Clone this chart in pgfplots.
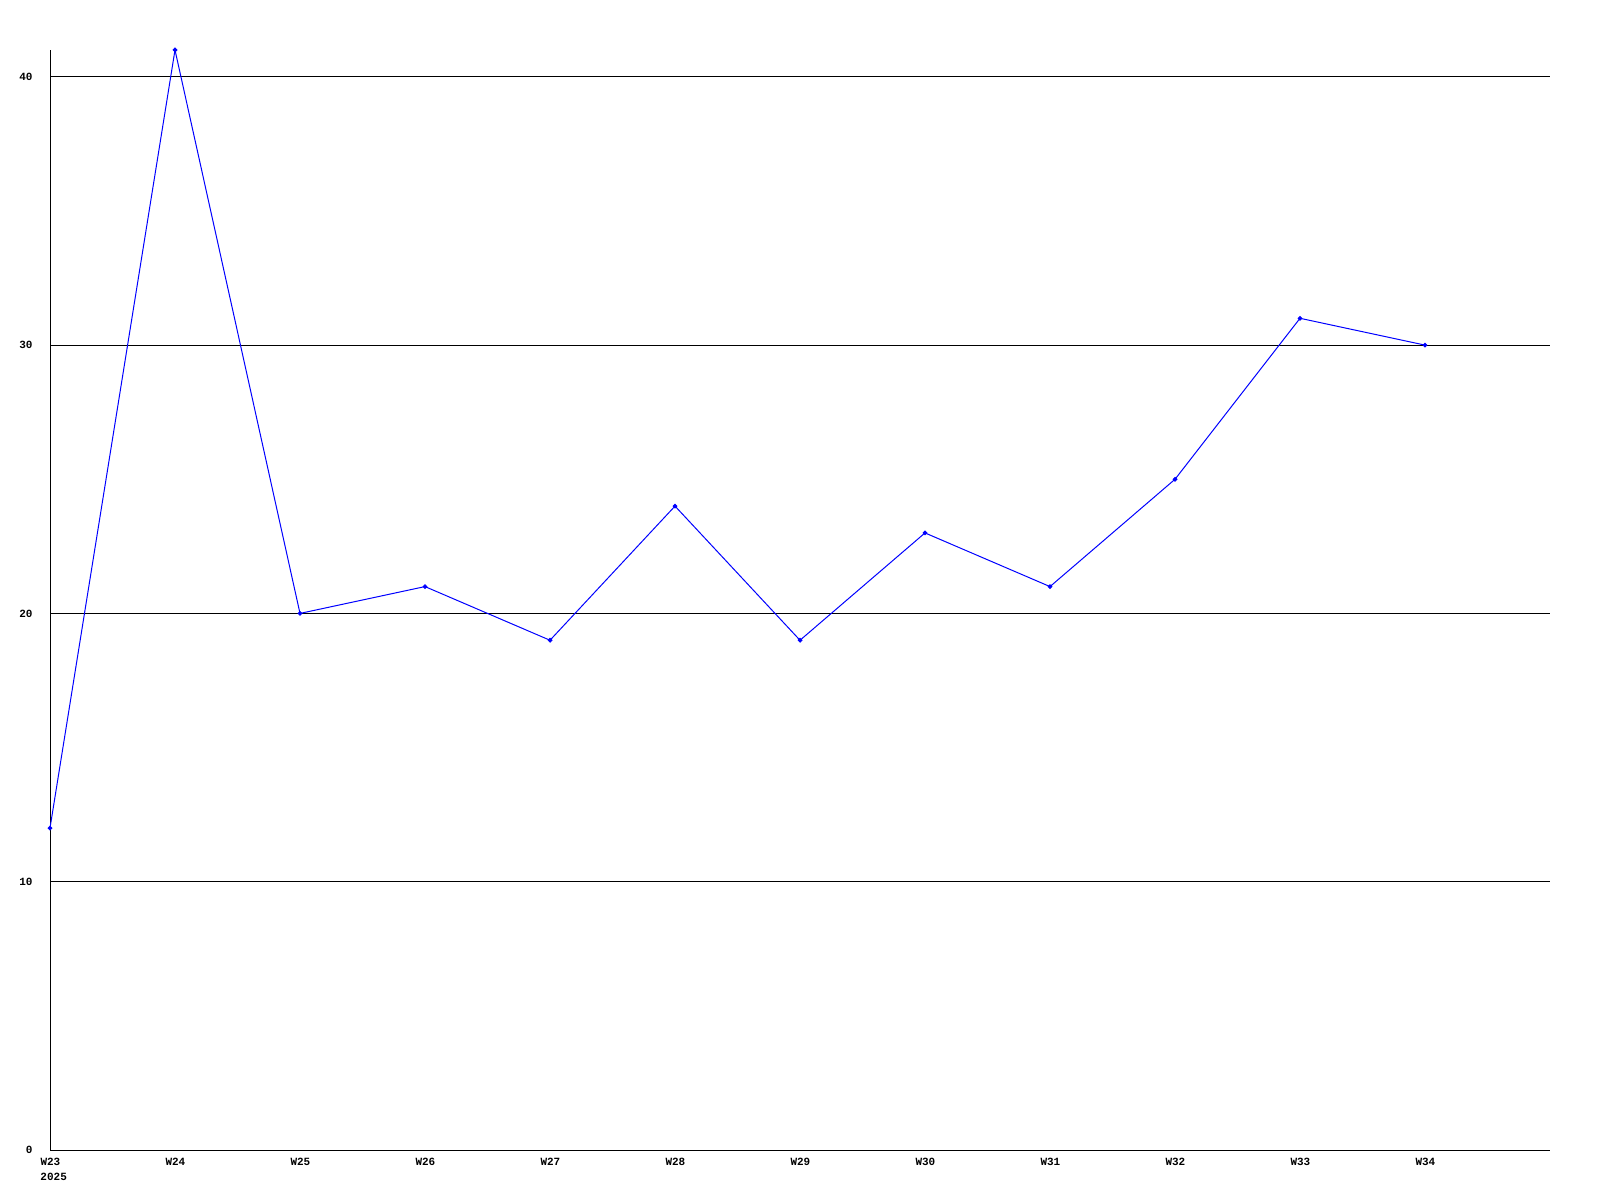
\documentclass[border=0pt]{standalone}
\usepackage{pgfplots}
\pgfplotsset{compat=1.18}
\usepackage{fontspec}
\newfontfamily\labelfont{Liberation Mono}
\begin{document}
\begin{tikzpicture}
\useasboundingbox (-25pt,-25pt) rectangle (775pt,575pt);
\begin{axis}[
  at={(0,0)}, anchor=south west,
  width=750pt, height=550pt, scale only axis=true,
  xmin=0, xmax=12, ymin=0, ymax=41,
  axis lines=left,
  axis line style={-, black, line width=0.5pt},
  xtick={0,1,2,3,4,5,6,7,8,9,10,11},
  xticklabels={W23\\2025,W24,W25,W26,W27,W28,W29,W30,W31,W32,W33,W34},
  ytick={0,10,20,30,40},
  major tick length=0pt,
  ymajorgrids=true,
  grid style={black, line width=0.5pt},
  tick label style={font=\labelfont\bfseries\fontsize{5.5}{7.5}\selectfont},
  xticklabel style={anchor=north west, inner sep=0pt, xshift=-4.95pt, yshift=-4pt, align=left},
  yticklabel style={anchor=east, inner sep=0pt, xshift=-8.5pt},
  /pgf/number format/assume math mode=true,
  clip=false,
]
\addplot[color={rgb,255:red,0;green,0;blue,255}, line width=0.5pt, mark=*, mark size=0.9pt,
  mark options={fill={rgb,255:red,0;green,0;blue,255}}] coordinates {
  (0,12) (1,41) (2,20) (3,21) (4,19) (5,24) (6,19) (7,23) (8,21) (9,25) (10,31) (11,30)
};
\end{axis}
\end{tikzpicture}
\end{document}
